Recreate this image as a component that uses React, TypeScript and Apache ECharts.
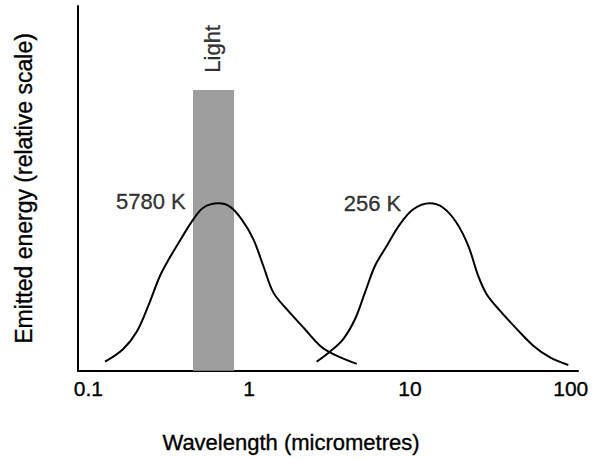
import React, { useEffect, useRef } from "react";
import * as echarts from "echarts";

// Wavelength (micrometres) and relative emitted energy
const sunWavelengths = [0.127, 0.165, 0.2, 0.236, 0.279, 0.322, 0.381, 0.45, 0.519, 0.643, 0.76, 0.899, 1.062, 1.225, 1.414, 1.714, 2.173, 2.76, 3.34, 4.67];
const sunEnergy = [0.025, 0.06, 0.107, 0.178, 0.26, 0.311, 0.365, 0.415, 0.447, 0.459, 0.45, 0.415, 0.361, 0.288, 0.215, 0.169, 0.119, 0.069, 0.046, 0.019];

const earthWavelengths = [2.63, 3.19, 3.85, 4.56, 5.26, 6.07, 7.17, 8.68, 10.5, 13.3, 16.1, 19.5, 23.1, 26.6, 30.0, 36.3, 46.1, 58.5, 74.3, 96.6];
const earthEnergy = [0.025, 0.053, 0.087, 0.142, 0.215, 0.288, 0.342, 0.402, 0.443, 0.459, 0.447, 0.406, 0.342, 0.26, 0.21, 0.165, 0.115, 0.069, 0.037, 0.016];

// Visible light band
const lightBand = [0.448, 0.806];
const lightBandTop = 0.77;

// Annotations
const annotationNames = ["5780 K", "256 K", "Light"];
const annotationX = [0.245, 5.85, 0.588];
const annotationY = [0.463, 0.46, 0.8825];

const xMin = 0.0863;
const xMax = 111;

const FONT = "'Liberation Sans', Arial, Helvetica, sans-serif";
const INK = { color: "#000000", textBorderColor: "#000000", textBorderWidth: 0.35 };

export default function App() {
  const ref = useRef<HTMLDivElement>(null);
  useEffect(() => {
    document.body.style.margin = "0";
    if (!ref.current) return;
    const chart = echarts.init(ref.current, undefined, { renderer: "svg" });
    const zip = (xs: number[], ys: number[]) => xs.map((x, i) => [x, ys[i]]);
    chart.setOption({
      animation: false,
      backgroundColor: "#ffffff",
      grid: { left: 78, right: 18, top: 6, bottom: 87, containLabel: false },
      xAxis: {
        type: "log",
        logBase: 10,
        min: xMin,
        max: xMax,
        name: "Wavelength (micrometres)",
        nameLocation: "middle",
        nameGap: 61,
        nameTextStyle: {
          fontFamily: FONT,
          fontSize: 22,
          ...INK,
          padding: [0, 74, 0, 0],
        },
        axisLine: { show: true, onZero: false, lineStyle: { color: "#000", width: 2 } },
        axisTick: { show: false },
        splitLine: { show: false },
        minorSplitLine: { show: false },
        axisLabel: {
          show: true,
          showMinLabel: false,
          showMaxLabel: false,
          margin: 7,
          fontFamily: FONT,
          fontSize: 21,
          ...INK,
          formatter: (v: number) => String(Math.pow(10, Math.round(Math.log10(v)))),
        },
      },
      yAxis: {
        type: "value",
        min: 0,
        max: 1,
        name: "Emitted energy (relative scale)",
        nameLocation: "middle",
        nameGap: 43,
        nameTextStyle: { fontFamily: FONT, fontSize: 23, ...INK },
        axisLine: { show: true, lineStyle: { color: "#000", width: 2 } },
        axisTick: { show: false },
        axisLabel: { show: false },
        splitLine: { show: false },
      },
      series: [
        {
          type: "line",
          name: "5780 K",
          data: zip(sunWavelengths, sunEnergy),
          smooth: 0.35,
          symbol: "none",
          lineStyle: { color: "#000", width: 2 },
          z: 3,
          markArea: {
            silent: true,
            itemStyle: { color: "#9e9e9e", opacity: 1 },
            data: [[{ coord: [lightBand[0], 0] }, { coord: [lightBand[1], lightBandTop] }]],
            z: 1,
          },
        },
        {
          type: "line",
          name: "256 K",
          data: zip(earthWavelengths, earthEnergy),
          smooth: 0.35,
          symbol: "none",
          lineStyle: { color: "#000", width: 2 },
          z: 3,
        },
        {
          type: "scatter",
          symbolSize: 0,
          silent: true,
          z: 4,
          data: annotationNames.map((n, i) => ({
            name: n,
            value: [annotationX[i], annotationY[i]],
            label: n === "Light" ? { rotate: 90 } : {},
          })),
          label: {
            show: true,
            position: "inside",
            formatter: (p: any) => p.name,
            fontFamily: FONT,
            fontSize: 22,
            ...INK,
          },
        },
      ],
    });
    return () => chart.dispose();
  }, []);
  return <div ref={ref} style={{ width: 596, height: 459 }} />;
}
